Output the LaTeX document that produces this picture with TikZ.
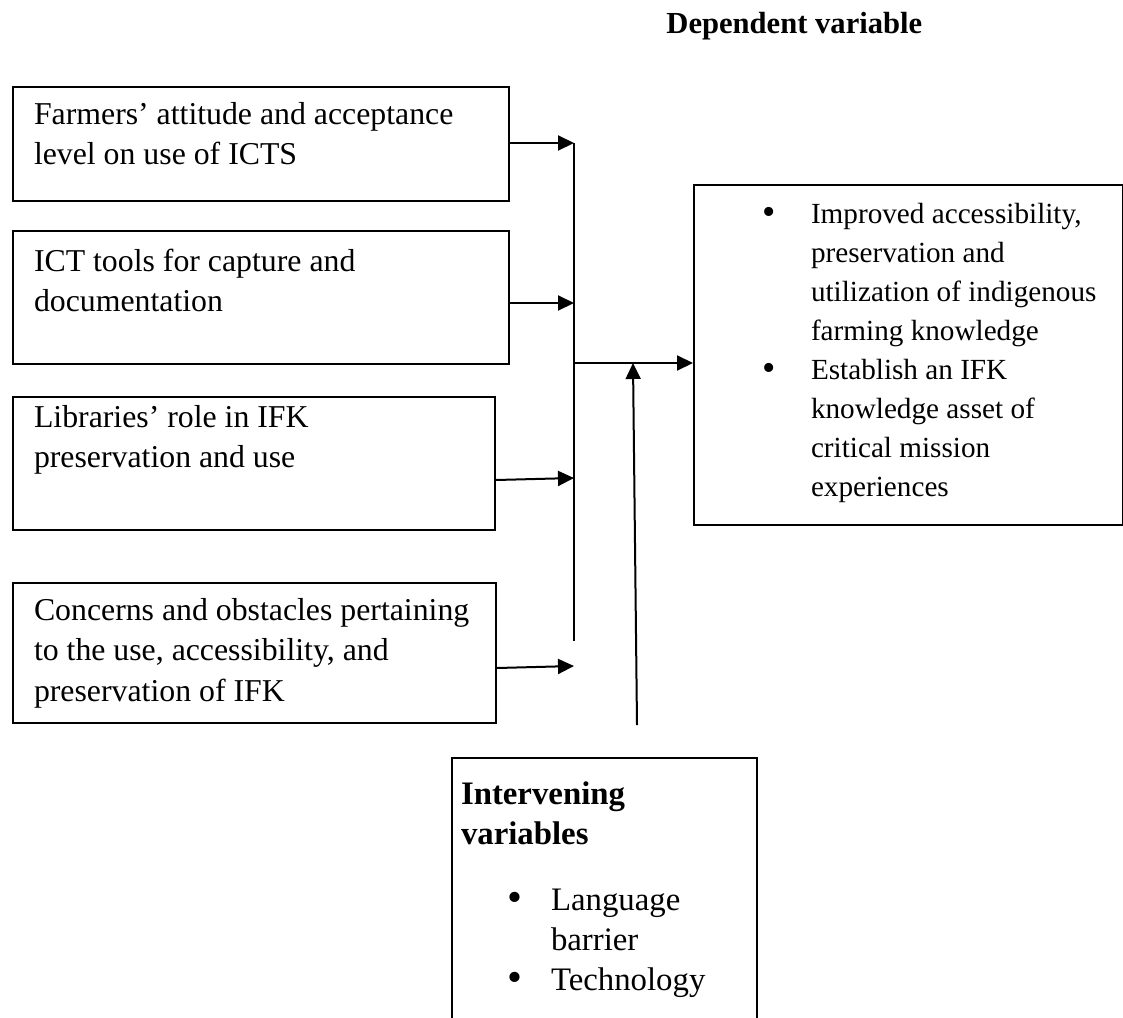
\documentclass[tikz,border=0pt]{standalone}
\usepackage{graphicx}
\usepackage{fontspec}
\setmainfont{Liberation Serif}
\usetikzlibrary{arrows.meta}
\newcommand\boxtext[5]{\parbox[c][#1][t]{#2}{\leftskip=#3\relax\rule{0pt}{#4}\ignorespaces#5}}
\newcommand\bigbul{\raisebox{-0.9pt}{\scalebox{1.3}{\textbullet}}}
\begin{document}
\begin{tikzpicture}[x=0.5pt,y=-0.5pt,
  frame/.style={draw, line width=1pt, inner sep=0pt, anchor=north west},
  leftfont/.style={font=\fontsize{15.9pt}{20.25pt}\selectfont},
  arr/.style={line width=1pt, -{Triangle[length=8pt,width=7.5pt]}},
  plain/.style={line width=1pt}]
\path[use as bounding box, clip] (0,0) rectangle (1123,1017);

\node[anchor=base west, inner sep=0pt, font=\fontsize{15.3pt}{18pt}\selectfont\bfseries] (title) at (666,33) {Dependent variable};

\node[frame, leftfont] (b1) at (12,86) {\boxtext{57pt}{248pt}{10.5pt}{18.5pt}{Farmers’ attitude and acceptance\\level on use of ICTS}};
\node[frame, leftfont] (b2) at (12,230) {\boxtext{66.5pt}{248pt}{10.5pt}{20pt}{ICT tools for capture and\\documentation}};
\node[frame, leftfont] (b3) at (12,396) {\boxtext{66.5pt}{241pt}{10.5pt}{15pt}{Libraries’ role in IFK\\preservation and use}};
\node[frame, leftfont] (b4) at (12,582) {\boxtext{70pt}{241.5pt}{10.5pt}{18.5pt}{Concerns and obstacles pertaining\\to the use, accessibility, and\\preservation of IFK}};

\node[frame, font=\fontsize{14.6pt}{19.5pt}\selectfont] (out) at (693,184) {\boxtext{170pt}{214.5pt}{58.5pt}{19pt}{\llap{\bigbul\hspace{17.5pt}}Improved accessibility,\\preservation and\\utilization of indigenous\\farming knowledge\\\llap{\bigbul\hspace{17.5pt}}Establish an IFK\\knowledge asset of\\critical mission\\experiences}};

\node[frame, font=\fontsize{16.4pt}{20pt}\selectfont] (iv) at (451,757) {\boxtext{150pt}{152.5pt}{4.5pt}{23pt}{\textbf{Intervening}\\\textbf{variables}\\[13pt]\hspace*{45pt}\llap{\bigbul\hspace{14.5pt}}Language\\\hspace*{45pt}barrier\\\hspace*{45pt}\llap{\bigbul\hspace{14.5pt}}Technology}};

% collector line and targets
\coordinate (top) at (574,143);
\coordinate (bot) at (574,641);
\coordinate (t2) at (574,303);
\coordinate (t3) at (574,478);
\coordinate (t4) at (574,666);
\coordinate (j) at (574,363);
\coordinate (ivs) at (637,725);
\coordinate (ivt) at (633,363);

\draw[plain] (top) -- (bot);
\draw[arr] (b1.east |- top) -- (top);
\draw[arr] (b2.east |- t2) -- (t2);
\draw[arr] ([yshift=-2*0.5pt]b3.east |- t3) -- (t3);
\draw[arr] ([yshift=-2*0.5pt]b4.east |- t4) -- (t4);
\draw[arr] (j) -- (j -| out.west);
\draw[arr] (ivs) -- (ivt);
\end{tikzpicture}
\end{document}
